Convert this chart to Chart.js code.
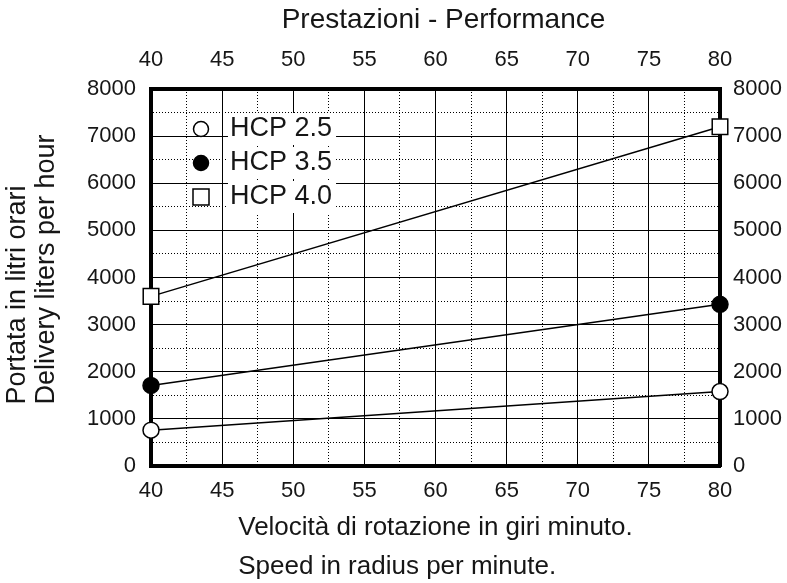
<!DOCTYPE html>
<html>
<head>
<meta charset="utf-8">
<title>Prestazioni - Performance</title>
<script src="https://cdn.jsdelivr.net/npm/chart.js@4.4.0/dist/chart.umd.min.js"></script>
<style>
    html, body { margin: 0; padding: 0; background: #fff; }
    #chart { display: block; }
</style>
</head>
<body>
<canvas id="chart" width="787" height="583"></canvas>
<script>
// ---- data ----
const speeds = [40, 80];                 // giri minuto
const seriesNames = ['HCP 2.5', 'HCP 3.5', 'HCP 4.0'];
const hcp25 = [760, 1580];
const hcp35 = [1710, 3430];
const hcp40 = [3600, 7200];

const xMin = 40, xMax = 80, xMajor = 5, xMinor = 2.5;
const yMin = 0, yMax = 8000, yMajor = 1000, yMinor = 500;

const topTitle = 'Prestazioni - Performance';
const xTitleLines = ['Velocità di rotazione in giri minuto.', 'Speed in radius per minute.'];
const yTitleLines = ['Portata in litri orari', 'Delivery liters per hour'];

const FONT = '"Liberation Sans", Arial, sans-serif';
const INK = '#161616';

const toPoints = (vals) => speeds.map((s, i) => ({ x: s, y: vals[i] }));

// dotted minor grid, solid major grid
const gridDash = (major) => (ctx) => {
    if (!ctx.tick) return [];
    return ctx.tick.value % major === 0 ? [] : [1, 2];
};

// legend drawn inside the plot, top-left, like the original
const innerLegend = {
    id: 'innerLegend',
    afterDatasetsDraw(chart) {
        const { ctx, chartArea } = chart;
        const mx = chartArea.left + 50;
        const tx = chartArea.left + 79;
        ctx.save();
        ctx.font = '27px ' + FONT;
        ctx.textBaseline = 'middle';
        chart.data.datasets.forEach((ds, i) => {
            const y = chartArea.top + 40 + i * 34;
            const w = ctx.measureText(ds.label).width;
            ctx.fillStyle = '#fff';
            ctx.fillRect(tx - 2, y - 16, w + 6, 32);
            ctx.fillStyle = INK;
            ctx.fillText(ds.label, tx, y);

            ctx.lineWidth = 1.5;
            ctx.strokeStyle = '#000';
            ctx.fillStyle = ds.pointBackgroundColor;
            ctx.beginPath();
            if (ds.pointStyle === 'rect') {
                ctx.rect(mx - 8, y - 8, 16, 16);
            } else {
                ctx.arc(mx, y, 7.5, 0, Math.PI * 2);
            }
            ctx.fill();
            ctx.stroke();
        });
        ctx.restore();
    }
};

// titles: the two-line ones are left aligned as a block (Chart.js centres each line)
const blockTitles = {
    id: 'blockTitles',
    afterDraw(chart) {
        const { ctx, chartArea } = chart;
        const midX = (chartArea.left + chartArea.right) / 2;
        ctx.save();
        ctx.fillStyle = INK;
        ctx.textBaseline = 'middle';

        // top
        ctx.font = '28px ' + FONT;
        ctx.textAlign = 'center';
        ctx.fillText(topTitle, midX + 8, 20);

        // bottom
        ctx.textAlign = 'left';
        ctx.font = '26px ' + FONT;
        let maxW = Math.max(...xTitleLines.map(t => ctx.measureText(t).width));
        const x0 = midX - maxW / 2;
        xTitleLines.forEach((t, i) => ctx.fillText(t, x0, chartArea.bottom + 62 + i * 39));

        // left, rotated
        ctx.font = '27px ' + FONT;
        maxW = Math.max(...yTitleLines.map(t => ctx.measureText(t).width));
        const yStart = (chartArea.top + chartArea.bottom) / 2 + maxW / 2 - 8;
        ctx.translate(0, yStart);
        ctx.rotate(-Math.PI / 2);
        yTitleLines.forEach((t, i) => ctx.fillText(t, 0, 18 + i * 29));
        ctx.restore();
    }
};

const makeSet = (label, vals, style, fill, radius) => ({
    label: label,
    data: toPoints(vals),
    borderColor: '#000',
    borderWidth: 1.5,
    pointStyle: style,
    pointRadius: radius,
    pointBackgroundColor: fill,
    pointBorderColor: '#000',
    pointBorderWidth: 1.5,
    clip: false,
    tension: 0
});

const tickFont = { family: FONT, size: 22 };

new Chart(document.getElementById('chart'), {
    type: 'line',
    data: {
        datasets: [
            makeSet(seriesNames[0], hcp25, 'circle', '#fff', 8),
            makeSet(seriesNames[1], hcp35, 'circle', '#000', 8),
            makeSet(seriesNames[2], hcp40, 'rect', '#fff', 11)
        ]
    },
    options: {
        responsive: false,
        animation: false,
        devicePixelRatio: 1,
        layout: { padding: 0 },
        plugins: {
            legend: { display: false },
            tooltip: { enabled: false }
        },
        scales: {
            x: {
                type: 'linear',
                position: 'bottom',
                min: xMin, max: xMax,
                afterFit: (s) => { s.height = 117; },
                ticks: {
                    stepSize: xMinor, autoSkip: false, maxRotation: 0,
                    padding: 12, color: INK, font: tickFont,
                    callback: (v) => v % xMajor === 0 ? v : ''
                },
                grid: { color: '#000', lineWidth: 1, drawTicks: false },
                border: { display: true, color: '#000', width: 4, dash: gridDash(xMajor) }
            },
            x2: {
                type: 'linear',
                position: 'top',
                min: xMin, max: xMax,
                afterFit: (s) => { s.height = 89; },
                ticks: {
                    stepSize: xMinor, autoSkip: false, maxRotation: 0,
                    padding: 16, color: INK, font: tickFont,
                    callback: (v) => v % xMajor === 0 ? v : ''
                },
                grid: { drawOnChartArea: false, drawTicks: false },
                border: { display: true, color: '#000', width: 4 }
            },
            y: {
                type: 'linear',
                position: 'left',
                min: yMin, max: yMax,
                afterFit: (s) => { s.width = 151; },
                ticks: {
                    stepSize: yMinor, autoSkip: false,
                    padding: 15, color: INK, font: tickFont,
                    callback: (v) => v % yMajor === 0 ? v : ''
                },
                grid: { color: '#000', lineWidth: 1, drawTicks: false },
                border: { display: true, color: '#000', width: 4, dash: gridDash(yMajor) }
            },
            y2: {
                type: 'linear',
                position: 'right',
                min: yMin, max: yMax,
                afterFit: (s) => { s.width = 67; },
                ticks: {
                    stepSize: yMinor, autoSkip: false,
                    padding: 13, color: INK, font: tickFont,
                    callback: (v) => v % yMajor === 0 ? v : ''
                },
                grid: { drawOnChartArea: false, drawTicks: false },
                border: { display: true, color: '#000', width: 4 }
            }
        }
    },
    plugins: [innerLegend, blockTitles]
});
</script>
</body>
</html>
